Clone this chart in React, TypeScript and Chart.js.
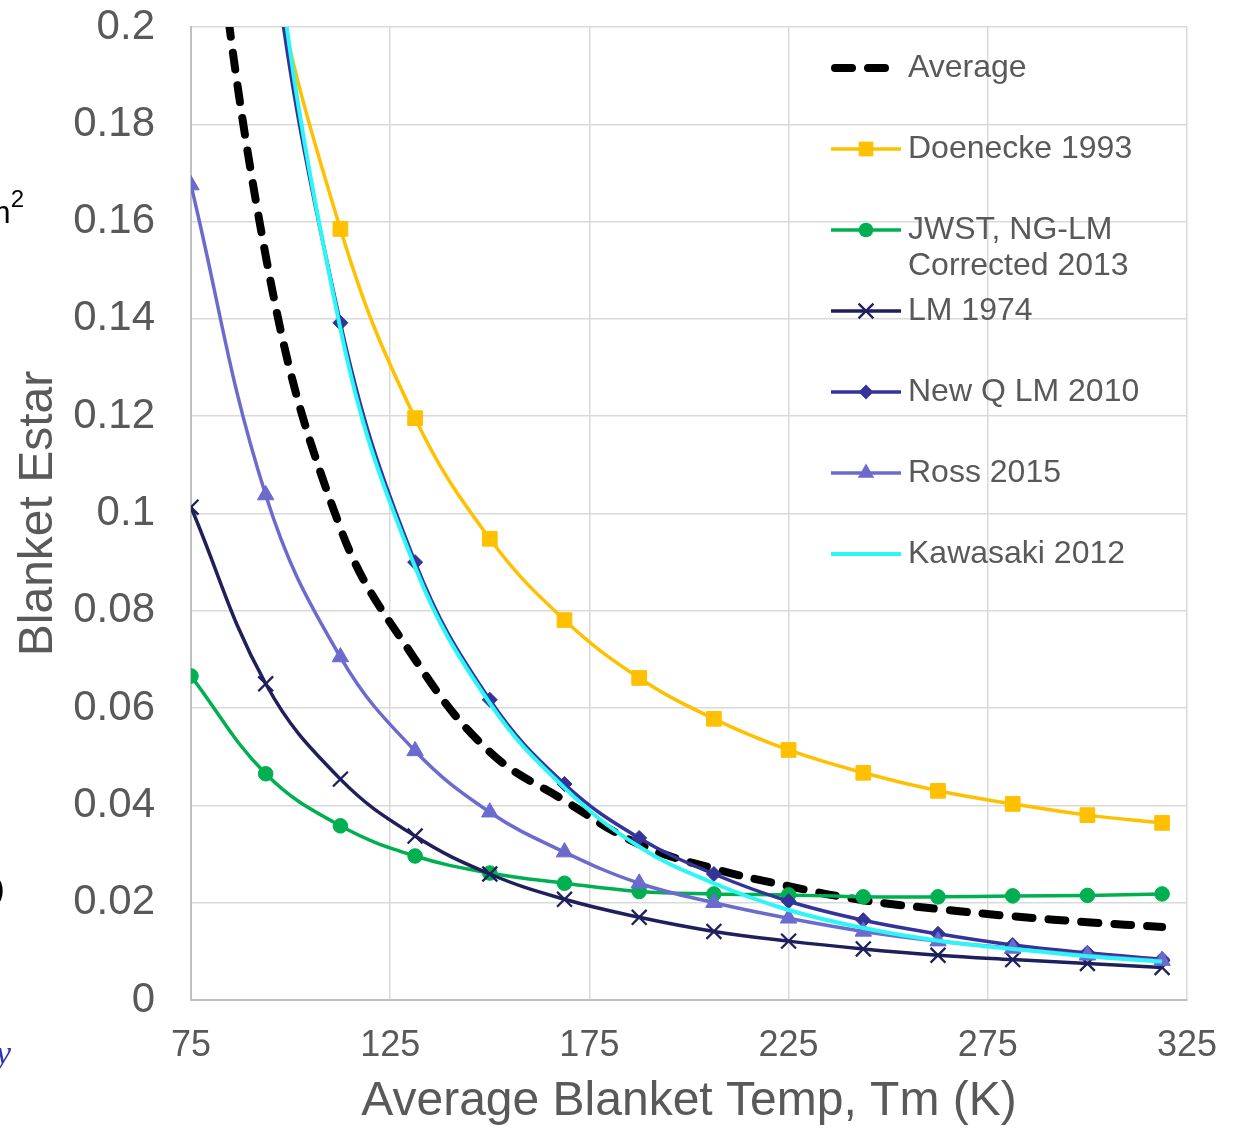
import React, { useEffect, useRef } from 'react';
import { Chart, registerables } from 'chart.js';

Chart.register(...registerables);

// ---------- data ----------
const temps = [75, 93.75, 112.5, 131.25, 150, 168.75, 187.5, 206.25, 225, 243.75, 262.5, 281.25, 300, 318.75];

const average = [0.262, 0.153, 0.097, 0.070, 0.051, 0.041, 0.032, 0.027, 0.0234, 0.0205, 0.0187, 0.0172, 0.0160, 0.0150];
const doenecke1993 = [0.33, 0.22, 0.1585, 0.1196, 0.0948, 0.0781, 0.0662, 0.0578, 0.0514, 0.0467, 0.0430, 0.0403, 0.0380, 0.0364];
const jwst2013 = [0.0666, 0.0465, 0.0358, 0.0296, 0.0261, 0.0240, 0.0223, 0.0218, 0.0216, 0.0212, 0.0212, 0.0214, 0.0215, 0.0218];
const lm1974 = [0.1013, 0.0650, 0.0454, 0.0337, 0.0259, 0.0207, 0.0170, 0.0141, 0.0121, 0.0105, 0.0092, 0.0083, 0.0075, 0.0067];
const newQLm2010 = [0.40, 0.228, 0.1392, 0.0900, 0.0617, 0.0444, 0.0333, 0.0259, 0.0203, 0.0164, 0.0136, 0.0113, 0.0097, 0.0084];
const ross2015 = [0.1675, 0.1038, 0.0705, 0.0512, 0.0386, 0.0304, 0.0240, 0.0200, 0.0168, 0.0141, 0.0121, 0.0106, 0.0092, 0.0081];
const kawasaki2012 = [0.42, 0.236, 0.138, 0.089, 0.061, 0.0436, 0.0315, 0.0240, 0.0185, 0.0148, 0.0122, 0.0105, 0.0090, 0.0079];

const seriesLabels = [
  ['Average'],
  ['Doenecke 1993'],
  ['JWST, NG-LM', 'Corrected 2013'],
  ['LM 1974'],
  ['New Q LM 2010'],
  ['Ross 2015'],
  ['Kawasaki 2012'],
];

const xTickValues = [75, 125, 175, 225, 275, 325];
const yTickValues = [0, 0.02, 0.04, 0.06, 0.08, 0.1, 0.12, 0.14, 0.16, 0.18, 0.2];

const xTitle = 'Average Blanket Temp, Tm (K)';
const yTitle = 'Blanket Estar';

const FONT = "'Liberation Sans', Arial, Helvetica, sans-serif";
const TEXT = '#595959';

function pts(values: number[]) {
  return values.map((v, i) => ({ x: temps[i], y: v }));
}

function drawMarker(ctx: CanvasRenderingContext2D, style: string, x: number, y: number, r: number, color: string, bw: number) {
  ctx.save();
  ctx.fillStyle = color;
  ctx.strokeStyle = color;
  ctx.lineWidth = bw;
  ctx.setLineDash([]);
  ctx.beginPath();
  if (style === 'rect') {
    const s = r * Math.SQRT1_2;
    ctx.rect(x - s, y - s, 2 * s, 2 * s);
    ctx.fill();
  } else if (style === 'circle') {
    ctx.arc(x, y, r, 0, Math.PI * 2);
    ctx.fill();
  } else if (style === 'rectRot') {
    ctx.moveTo(x, y - r);
    ctx.lineTo(x + r, y);
    ctx.lineTo(x, y + r);
    ctx.lineTo(x - r, y);
    ctx.closePath();
    ctx.fill();
  } else if (style === 'triangle') {
    const a = -Math.PI / 2;
    for (let k = 0; k < 3; k++) {
      const ang = a + (k * 2 * Math.PI) / 3;
      const px = x + Math.cos(ang) * r;
      const py = y + Math.sin(ang) * r;
      if (k === 0) ctx.moveTo(px, py);
      else ctx.lineTo(px, py);
    }
    ctx.closePath();
    ctx.fill();
  } else if (style === 'crossRot') {
    const o = r * Math.SQRT1_2;
    ctx.moveTo(x - o, y - o);
    ctx.lineTo(x + o, y + o);
    ctx.moveTo(x - o, y + o);
    ctx.lineTo(x + o, y - o);
    ctx.stroke();
  }
  ctx.restore();
}

const legendPlugin = {
  id: 'insideLegend',
  afterDraw(chart: any) {
    const { ctx, chartArea } = chart;
    const x0 = chartArea.left + 640;
    const x1 = chartArea.left + 710;
    const tx = chartArea.left + 717;
    const top = chartArea.top + 41;
    const step = 81;
    ctx.save();
    chart.data.datasets.forEach((ds: any, i: number) => {
      const y = top + i * step;
      ctx.save();
      ctx.strokeStyle = ds.borderColor;
      ctx.lineWidth = ds.borderWidth;
      ctx.lineCap = ds.borderCapStyle || 'butt';
      ctx.setLineDash(ds.borderDash || []);
      ctx.beginPath();
      if (ds.borderDash && ds.borderDash.length) {
        ctx.moveTo(x0 + 4, y);
        ctx.lineTo(x1 - 4, y);
      } else {
        ctx.moveTo(x0, y);
        ctx.lineTo(x1, y);
      }
      ctx.stroke();
      ctx.restore();
      if (ds.pointRadius > 0) {
        drawMarker(ctx, ds.pointStyle, (x0 + x1) / 2, y, ds.pointRadius, ds.borderColor, ds.pointBorderWidth || 1);
      }
      ctx.fillStyle = TEXT;
      ctx.font = `32px ${FONT}`;
      ctx.textAlign = 'left';
      ctx.textBaseline = 'middle';
      const lines: string[] = seriesLabels[i];
      lines.forEach((t, j) => ctx.fillText(t, tx, y + j * 36));
    });
    ctx.restore();
  },
};

export default function App() {
  const canvasRef = useRef<HTMLCanvasElement | null>(null);

  useEffect(() => {
    const canvas = canvasRef.current;
    if (!canvas) return;
    const common = { tension: 0.4, fill: false, pointBorderWidth: 1 };
    const chart = new Chart(canvas, {
      type: 'line',
      data: {
        datasets: [
          { ...common, label: seriesLabels[0].join(' '), data: pts(average), borderColor: '#000000', backgroundColor: '#000000', borderWidth: 8, borderDash: [17, 16], borderCapStyle: 'round', pointRadius: 0, order: 7 },
          { ...common, label: seriesLabels[1].join(' '), data: pts(doenecke1993), borderColor: '#FFC000', backgroundColor: '#FFC000', borderWidth: 3.5, pointStyle: 'rect', pointRadius: 10.4, order: 6 },
          { ...common, label: seriesLabels[2].join(' '), data: pts(jwst2013), borderColor: '#00B050', backgroundColor: '#00B050', borderWidth: 3.5, pointStyle: 'circle', pointRadius: 7.3, order: 5 },
          { ...common, label: seriesLabels[3].join(' '), data: pts(lm1974), borderColor: '#1F1F5C', backgroundColor: '#1F1F5C', borderWidth: 3.5, pointStyle: 'crossRot', pointRadius: 10.5, pointBorderWidth: 2.3, order: 4 },
          { ...common, label: seriesLabels[4].join(' '), data: pts(newQLm2010), borderColor: '#333399', backgroundColor: '#333399', borderWidth: 3.5, pointStyle: 'rectRot', pointRadius: 7.5, order: 3 },
          { ...common, label: seriesLabels[5].join(' '), data: pts(ross2015), borderColor: '#6B6BCE', backgroundColor: '#6B6BCE', borderWidth: 3.5, pointStyle: 'triangle', pointRadius: 9.5, order: 2 },
          { ...common, label: seriesLabels[6].join(' '), data: pts(kawasaki2012), borderColor: '#2CF6F6', backgroundColor: '#2CF6F6', borderWidth: 4, pointRadius: 0, order: 1 },
        ],
      },
      options: {
        animation: false,
        responsive: false,
        maintainAspectRatio: false,
        devicePixelRatio: 1,
        layout: { padding: { top: 27, right: 50, left: 0, bottom: 0 } },
        plugins: {
          legend: { display: false },
          tooltip: { enabled: false },
          title: { display: false },
        },
        scales: {
          x: {
            type: 'linear',
            min: 75,
            max: 325,
            afterBuildTicks: (s: any) => { s.ticks = xTickValues.map((v) => ({ value: v })); },
            afterFit: (s: any) => { s.height = 128; s.paddingLeft = 0; s.paddingRight = 0; },
            grid: { color: '#D9D9D9', lineWidth: 1.5, drawTicks: false },
            border: { color: '#BFBFBF', width: 2 },
            ticks: { padding: 24, color: TEXT, font: { size: 36, family: FONT }, maxRotation: 0, autoSkip: false },
            title: { display: true, text: xTitle, color: TEXT, font: { size: 48, family: FONT, lineHeight: 1.08 }, padding: 0 },
          },
          y: {
            type: 'linear',
            min: 0,
            max: 0.2,
            afterBuildTicks: (s: any) => { s.ticks = yTickValues.map((v) => ({ value: v })); },
            afterFit: (s: any) => { s.width = 191; s.paddingTop = 0; s.paddingBottom = 0; },
            grid: { color: '#D9D9D9', lineWidth: 1.5, drawTicks: false },
            border: { color: '#BFBFBF', width: 2 },
            ticks: {
              padding: 36,
              color: TEXT,
              font: { size: 42, family: FONT },
              autoSkip: false,
              callback: (v: any) => String(Number(Number(v).toFixed(2))),
            },
            title: { display: true, text: yTitle, color: TEXT, font: { size: 48, family: FONT, lineHeight: 1.2 }, padding: { top: 10, bottom: 0 } },
          },
        },
      },
      plugins: [legendPlugin],
    } as any);
    return () => chart.destroy();
  }, []);

  return (
    <div style={{ position: 'absolute', left: 0, top: 0, width: 1237, height: 1128, overflow: 'hidden', background: '#ffffff' }}>
      <canvas ref={canvasRef} width={1237} height={1128} style={{ display: 'block', width: 1237, height: 1128 }} />
      <span style={{ position: 'absolute', left: -16, top: 196, fontFamily: FONT, fontSize: 32, color: '#000', lineHeight: 1 }}>
        m<sup style={{ fontSize: 24, verticalAlign: 'top', position: 'relative', top: -9 }}>2</sup>
      </span>
      <span style={{ position: 'absolute', left: -6, top: 872, fontFamily: FONT, fontSize: 32, color: '#000', lineHeight: 1 }}>)</span>
      <span style={{ position: 'absolute', left: -4, top: 1036, fontFamily: "'Liberation Serif', serif", fontStyle: 'italic', fontSize: 34, color: '#3333BB', lineHeight: 1 }}>y</span>
    </div>
  );
}
